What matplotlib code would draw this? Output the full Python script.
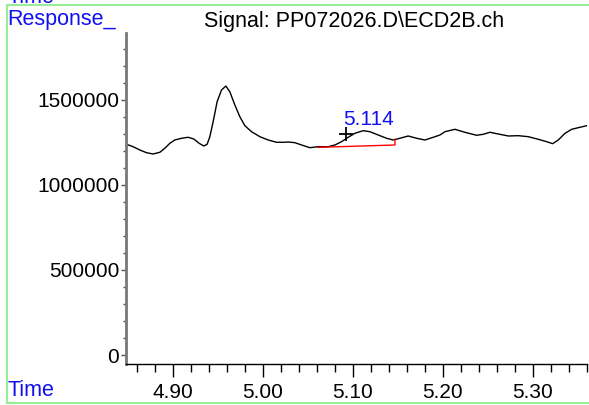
import matplotlib
matplotlib.use("Agg")
from matplotlib import pyplot as plt
from matplotlib.ticker import MultipleLocator

# trace (time in min, response)
times = [4.8486, 4.8559, 4.8633, 4.8708, 4.8781, 4.8856, 4.8911, 4.8967, 4.9022, 4.9097,
         4.9170, 4.9233, 4.9292, 4.9344, 4.9381, 4.9411, 4.9448, 4.9492, 4.9541, 4.9589,
         4.9633, 4.9689, 4.9744, 4.9800, 4.9874, 4.9967, 5.0059, 5.0152, 5.0226, 5.0281,
         5.0356, 5.0430, 5.0522, 5.0614, 5.0726, 5.0800, 5.0874, 5.0948, 5.1022, 5.1114,
         5.1189, 5.1281, 5.1374, 5.1448, 5.1522, 5.1614, 5.1708, 5.1800, 5.1892, 5.1967,
         5.2022, 5.2133, 5.2244, 5.2374, 5.2448, 5.2522, 5.2614, 5.2726, 5.2837, 5.2948,
         5.3059, 5.3152, 5.3219, 5.3281, 5.3356, 5.3430, 5.3503, 5.3597]
response = [1239400, 1225300, 1205900, 1190000, 1182400, 1192400, 1215900, 1245300, 1264700, 1274700,
            1280600, 1270600, 1245300, 1229400, 1239400, 1284100, 1372400, 1490000, 1558800, 1582000,
            1548800, 1470600, 1401800, 1348800, 1313500, 1284100, 1264700, 1251200, 1251200, 1252900,
            1248800, 1235300, 1219400, 1225300, 1225300, 1235300, 1254700, 1280600, 1304100, 1319400,
            1313500, 1294100, 1274700, 1264700, 1274700, 1288200, 1274700, 1264700, 1280600, 1294100,
            1313500, 1327600, 1310000, 1292400, 1298200, 1310000, 1300000, 1288200, 1290000, 1284100,
            1268800, 1254700, 1243000, 1264700, 1304100, 1327600, 1337100, 1348800]

# integration baseline and peak label
base_t = [5.0614, 5.1467, 5.1467]
base_r = [1221400, 1235300, 1268800]
peak_t = 5.0925
peak_r = 1297000
peak_label = "5.114"

xticks = [4.90, 5.00, 5.10, 5.20, 5.30]
yticks = [0, 500000, 1000000, 1500000]

plt.rcParams['font.family'] = ['Liberation Sans', 'DejaVu Sans']
fs = 15
fs_lab = 15.5
blue = '#1010f0'
green = '#98ee98'

fig = plt.figure(figsize=(5.89, 4.05), dpi=100)
W, H = 589.0, 405.0

ax = fig.add_axes([126 / W, 1 - 364 / H, (587 - 126) / W, (364 - 33) / H])
ax.plot(times, response, color='black', lw=1.0)
ax.plot(base_t, base_r, color='red', lw=1.0)
ax.plot(peak_t, peak_r, marker='+', color='black', ms=10, mew=1.3)
ax.text(5.1170, 1386500, peak_label, color=blue, fontsize=fs, ha='center', va='center')

ax.set_xticks(xticks)
ax.set_xticklabels(["%.2f" % t for t in xticks])
ax.set_yticks(yticks)
ax.set_yticklabels([str(v) for v in yticks])
ax.xaxis.set_minor_locator(MultipleLocator(0.02))
ax.yaxis.set_minor_locator(MultipleLocator(100000))
ax.set_xlim(4.848, 5.36)
ax.set_ylim(-52900, 1894000)
for s in ['top', 'right']:
    ax.spines[s].set_visible(False)
ax.spines['left'].set_color('#787878')
ax.spines['left'].set_linewidth(2.0)
ax.spines['bottom'].set_color('black')
ax.spines['bottom'].set_linewidth(1.0)
ax.tick_params(axis='x', which='major', length=9, width=1, labelsize=fs, pad=4.5)
ax.tick_params(axis='x', which='minor', length=6, width=1)
ax.tick_params(axis='y', which='major', length=3.5, width=1, labelsize=fs, pad=1.5, color='#505050')
ax.tick_params(axis='y', which='minor', length=2, width=1, color='#505050')

# frame and labels around the plot
fig.add_artist(plt.Line2D([7 / W, 1], [1 - 5 / H, 1 - 5 / H], color=green, lw=1.5))
fig.add_artist(plt.Line2D([7 / W, 7 / W], [1 - 5 / H, 1 - 403 / H], color=green, lw=1.5))
fig.add_artist(plt.Line2D([7 / W, 1], [1 - 403 / H, 1 - 403 / H], color=green, lw=1.5))

fig.text(7 / W, 1 - 19 / H, "Response_", color=blue, fontsize=fs_lab, ha='left', va='center')
fig.text(7 / W, 1 - 391 / H, "Time", color=blue, fontsize=fs_lab, ha='left', va='center')
fig.text(7 / W, 1 - 3 / H, "Time", color=blue, fontsize=fs_lab, ha='left', va='baseline')
fig.text(354 / W, 1 - 21 / H, "Signal: PP072026.D\\ECD2B.ch", color='black', fontsize=fs_lab,
         ha='center', va='center')

fig.savefig("out.png", dpi=100)
